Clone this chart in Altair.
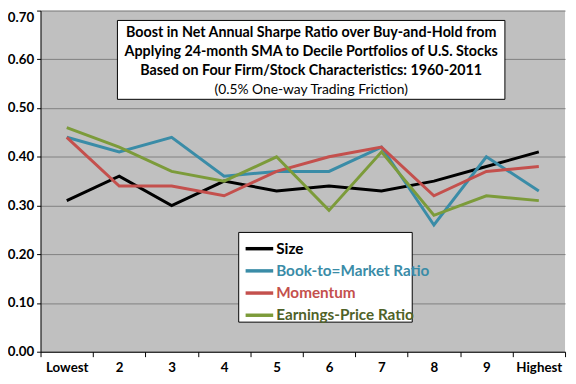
import altair as alt
import pandas as pd

categories = ["Lowest", "2", "3", "4", "5", "6", "7", "8", "9", "Highest"]
series_names = ["Size", "Book-to=Market Ratio", "Momentum", "Earnings-Price Ratio"]
size_vals = [0.31, 0.36, 0.30, 0.35, 0.33, 0.34, 0.33, 0.35, 0.38, 0.41]
btm_vals = [0.44, 0.41, 0.44, 0.36, 0.37, 0.37, 0.42, 0.26, 0.40, 0.33]
mom_vals = [0.44, 0.34, 0.34, 0.32, 0.37, 0.40, 0.42, 0.32, 0.37, 0.38]
ep_vals = [0.46, 0.42, 0.37, 0.35, 0.40, 0.29, 0.41, 0.28, 0.32, 0.31]
colors = ["#000000", "#3A8CA7", "#C4504D", "#7C9B3A"]
label_colors = ["#000000", "#3A8CA7", "#C4504D", "#4F6228"]
y_ticks = [0.0, 0.1, 0.2, 0.3, 0.4, 0.5, 0.6, 0.7]
title_lines = [
    "Boost in Net Annual Sharpe Ratio over Buy-and-Hold from",
    "Applying 24-month SMA to Decile Portfolios of U.S. Stocks",
    "Based on Four Firm/Stock Characteristics: 1960-2011",
]
subtitle_line = "(0.5% One-way Trading Friction)"

FONT = "Lato"
PLOT_W, PLOT_H = 532, 346

x_enc = alt.X(
    "Decile:N",
    sort=categories,
    bandPosition=0.5,
    scale=alt.Scale(type="band", paddingInner=0, paddingOuter=0),
    axis=alt.Axis(
        title=None,
        labelAngle=0,
        tickBand="extent",
        labelFont=FONT,
        labelFontSize=13.5,
        labelFontWeight="bold",
        labelColor="#000000",
        labelPadding=4,
        domainColor="#000000",
        tickColor="#000000",
        tickSize=5,
        grid=False,
    ),
)
y_enc = alt.Y(
    "Value:Q",
    scale=alt.Scale(domain=[0, 0.7], nice=False),
    axis=alt.Axis(
        title=None,
        values=y_ticks,
        format=".2f",
        labelFont=FONT,
        labelFontSize=13.5,
        labelFontWeight="bold",
        labelColor="#000000",
        labelPadding=3,
        labelBaseline=alt.ConditionalAxisLabelBaseline(
            condition={"test": "datum.value >= 0.69", "value": "top"}, value="middle"
        ),
        domainColor="#000000",
        tickColor="#000000",
        tickSize=4,
        gridColor="#808080",
        gridWidth=1,
    ),
)

legend_rows_y = [225.5, 248, 270.5, 293]

line_layers = []
for i, (name, vals) in enumerate(zip(series_names, [size_vals, btm_vals, mom_vals, ep_vals])):
    d = pd.DataFrame({"Decile": categories, "Value": vals, "Series": [name] * len(vals)})
    line_layers.append(
        alt.Chart(d).mark_line(strokeWidth=3).encode(
            x=x_enc,
            y=y_enc,
            color=alt.Color(
                "Series:N",
                scale=alt.Scale(domain=[name], range=[colors[i]]),
                legend=alt.Legend(
                    title=None,
                    orient="none",
                    legendX=206,
                    legendY=legend_rows_y[i],
                    symbolType="stroke",
                    symbolSize=784,
                    symbolStrokeWidth=3.5,
                    labelFont=FONT,
                    labelFontSize=15.5,
                    labelFontWeight="bold",
                    labelColor=label_colors[i],
                    labelOffset=1,
                    labelLimit=300,
                    padding=0,
                ),
            ),
        )
    )

one = pd.DataFrame({"k": [0]})

legend_box = alt.Chart(one).mark_rect(fill="#FFFFFF", stroke="#000000", strokeWidth=1).encode(
    x=alt.value(201), x2=alt.value(377), y=alt.value(225), y2=alt.value(316)
)

title_box = alt.Chart(one).mark_rect(fill="#FFFFFF", stroke="#000000", strokeWidth=1).encode(
    x=alt.value(78), x2=alt.value(471), y=alt.value(10), y2=alt.value(90)
)

texts = []
for i, t in enumerate(title_lines):
    texts.append(
        alt.Chart(one).mark_text(
            font=FONT, fontSize=14.5, fontWeight="bold", color="#000000", baseline="middle", align="center"
        ).encode(x=alt.value(274.5), y=alt.value(22.7 + 19.2 * i), text=alt.value(t))
    )
texts.append(
    alt.Chart(one).mark_text(
        font=FONT, fontSize=14, fontWeight="normal", color="#000000", baseline="middle", align="center"
    ).encode(x=alt.value(274.5), y=alt.value(80.3), text=alt.value(subtitle_line))
)

chart = alt.layer(legend_box, *line_layers, title_box, *texts).resolve_scale(
    color="independent"
).properties(
    width=PLOT_W,
    height=PLOT_H,
    autosize=alt.AutoSizeParams(type="none"),
    padding={"left": 33, "top": 0, "right": 3, "bottom": 22},
    background="#FFFFFF",
).configure_view(fill="#C0C0C0", stroke=None)

chart.save("out.html", embed_options={"renderer": "svg", "actions": False})
